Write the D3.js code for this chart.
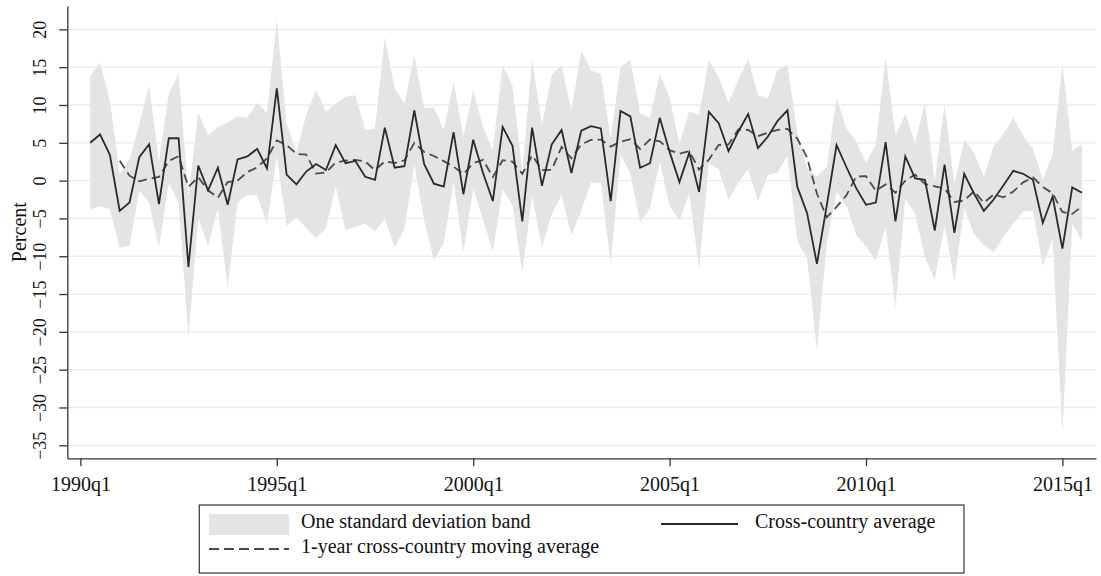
<!DOCTYPE html>
<html>
<head>
<meta charset="utf-8">
<script src="https://cdn.jsdelivr.net/npm/d3@7"></script>
<style>
  body { margin: 0; background: #fff; }
  svg { display: block; }
  text { font-family: "Liberation Serif", "Times New Roman", Times, serif; fill: #111; }
</style>
</head>
<body>
<svg id="chart" width="1101" height="576"></svg>
<script>
// Quarterly observations, 1990q2 - 2015q3
const periods = [
  "1990q2","1990q3","1990q4",
  "1991q1","1991q2","1991q3","1991q4","1992q1","1992q2","1992q3","1992q4",
  "1993q1","1993q2","1993q3","1993q4","1994q1","1994q2","1994q3","1994q4",
  "1995q1","1995q2","1995q3","1995q4","1996q1","1996q2","1996q3","1996q4",
  "1997q1","1997q2","1997q3","1997q4","1998q1","1998q2","1998q3","1998q4",
  "1999q1","1999q2","1999q3","1999q4","2000q1","2000q2","2000q3","2000q4",
  "2001q1","2001q2","2001q3","2001q4","2002q1","2002q2","2002q3","2002q4",
  "2003q1","2003q2","2003q3","2003q4","2004q1","2004q2","2004q3","2004q4",
  "2005q1","2005q2","2005q3","2005q4","2006q1","2006q2","2006q3","2006q4",
  "2007q1","2007q2","2007q3","2007q4","2008q1","2008q2","2008q3","2008q4",
  "2009q1","2009q2","2009q3","2009q4","2010q1","2010q2","2010q3","2010q4",
  "2011q1","2011q2","2011q3","2011q4","2012q1","2012q2","2012q3","2012q4",
  "2013q1","2013q2","2013q3","2013q4","2014q1","2014q2","2014q3","2014q4",
  "2015q1","2015q2","2015q3"
];

// Cross-country average (percent)
const crossCountryAvg = [
  5.0, 6.1, 3.4, -4.0, -2.9, 3.1, 4.8, -3.1, 5.6, 5.6,
  -11.4, 2.0, -1.3, 1.7, -3.2, 2.8, 3.2, 4.2, 1.6, 12.2,
  0.8, -0.5, 1.2, 2.2, 1.4, 4.7, 2.3, 2.6, 0.5, 0.1,
  7.0, 1.7, 1.9, 9.3, 2.2, -0.4, -0.8, 6.4, -1.8, 5.4,
  1.0, -2.7, 7.1, 4.6, -5.4, 7.0, -0.7, 4.8, 6.7, 1.0,
  6.6, 7.2, 6.9, -2.7, 9.2, 8.5, 1.7, 2.3, 8.3, 3.8,
  -0.2, 3.7, -1.5, 9.1, 7.6, 3.9, 6.5, 8.8, 4.3, 5.8,
  7.9, 9.3, -0.8, -4.3, -11.0, -3.3, 4.7, 1.8, -1.0, -3.2,
  -2.9, 5.1, -5.4, 3.2, 0.3, 0.1, -6.6, 2.1, -6.9, 0.9,
  -1.7, -4.0, -2.5, -0.6, 1.3, 0.9, 0.1, -5.6, -2.1, -9.0,
  -0.9, -1.6
];

// Cross-country standard deviation (percentage points)
const crossCountrySd = [
  8.8, 9.5, 7.2, 4.9, 5.7, 4.4, 7.8, 5.7, 5.9, 8.5,
  9.3, 7.0, 7.3, 5.4, 10.9, 5.7, 5.1, 6.1, 7.3, 9.0,
  6.8, 4.3, 7.5, 9.8, 7.7, 5.5, 8.8, 8.7, 6.2, 6.8,
  12.0, 10.5, 8.3, 7.2, 7.4, 10.1, 7.5, 6.6, 7.6, 6.5,
  6.1, 6.7, 8.2, 7.9, 6.7, 9.0, 8.1, 9.2, 8.6, 8.2,
  10.6, 7.4, 7.2, 8.3, 5.8, 7.5, 7.2, 6.0, 5.8, 7.2,
  5.1, 5.4, 10.2, 6.8, 6.1, 6.4, 6.8, 7.3, 7.0, 5.1,
  6.8, 6.0, 7.2, 6.0, 11.5, 5.1, 6.2, 5.1, 6.2, 5.5,
  7.7, 11.2, 11.4, 5.6, 4.7, 10.2, 6.5, 8.0, 6.4, 4.5,
  5.4, 4.5, 7.0, 6.8, 7.0, 5.0, 4.1, 5.7, 5.6, 24.4,
  4.8, 6.4
];

// 1-year (four-quarter) cross-country moving average
const movingAvg = [
  null, null, null, 2.63, 0.65, -0.10, 0.25, 0.48, 2.60, 3.23,
  -0.83, 0.45, -1.28, -2.25, -0.20, 0.00, 1.13, 1.75, 2.95, 5.30,
  4.70, 3.53, 3.43, 0.93, 1.08, 2.38, 2.65, 2.75, 2.53, 1.38,
  2.55, 2.33, 2.68, 4.98, 3.78, 3.25, 2.58, 1.85, 0.85, 2.30,
  2.75, 0.48, 2.70, 2.50, 0.90, 3.33, 1.38, 1.43, 4.45, 2.95,
  4.78, 5.38, 5.43, 4.50, 5.15, 5.48, 4.18, 5.43, 5.20, 4.03,
  3.55, 3.90, 1.45, 2.78, 4.73, 4.78, 6.78, 6.70, 5.88, 6.35,
  6.70, 6.83, 5.55, 3.03, -1.70, -4.85, -3.48, -1.95, 0.55, 0.58,
  -1.33, -0.50, -1.60, 0.00, 0.80, -0.45, -0.75, -1.03, -2.83, -2.63,
  -1.40, -2.93, -1.83, -2.20, -1.45, -0.23, 0.43, -0.83, -1.68, -4.15,
  -4.40, -3.40
];

const xTickLabels = ["1990q1", "1995q1", "2000q1", "2005q1", "2010q1", "2015q1"];
const yTickValues = [20, 15, 10, 5, 0, -5, -10, -15, -20, -25, -30, -35];
const yAxisTitle = "Percent";
const legendLabels = {
  band: "One standard deviation band",
  avg: "Cross-country average",
  ma: "1-year cross-country moving average"
};

// quarters elapsed since 1990q1
function periodIndex(p) {
  const yr = +p.slice(0, 4), q = +p.slice(5);
  return (yr - 1990) * 4 + (q - 1);
}

const rows = periods.map((p, i) => ({
  t: periodIndex(p),
  avg: crossCountryAvg[i],
  sd: crossCountrySd[i],
  ma: movingAvg[i]
}));

const svg = d3.select("#chart");
const plot = { left: 67.3, right: 1096, top: 6, bottom: 458.3 };

const x = d3.scaleLinear().domain([-1.334, 103.42]).range([plot.left, plot.right]);
const y = d3.scaleLinear().domain([-36.72, 23.09]).range([plot.bottom, plot.top]);

// horizontal gridlines
svg.append("g")
  .selectAll("line")
  .data(yTickValues)
  .join("line")
  .attr("x1", plot.left).attr("x2", plot.right)
  .attr("y1", d => y(d)).attr("y2", d => y(d))
  .attr("stroke", "#ebebeb").attr("stroke-width", 1.3);

// one standard deviation band
svg.append("path")
  .datum(rows)
  .attr("fill", "#e4e4e4")
  .attr("d", d3.area()
    .x(d => x(d.t))
    .y0(d => y(d.avg - d.sd))
    .y1(d => y(d.avg + d.sd)));

// moving average (dashed)
svg.append("path")
  .datum(rows)
  .attr("fill", "none")
  .attr("stroke", "#4a4a4a")
  .attr("stroke-width", 1.8)
  .attr("stroke-dasharray", "9,5")
  .attr("d", d3.line().defined(d => d.ma !== null).x(d => x(d.t)).y(d => y(d.ma)));

// cross-country average (solid)
svg.append("path")
  .datum(rows)
  .attr("fill", "none")
  .attr("stroke", "#2a2a2a")
  .attr("stroke-width", 1.8)
  .attr("d", d3.line().x(d => x(d.t)).y(d => y(d.avg)));

// y axis
const yAxis = svg.append("g")
  .attr("transform", `translate(${plot.left},0)`)
  .call(d3.axisLeft(y).tickValues(yTickValues).tickSize(8).tickSizeOuter(0));
yAxis.select(".domain").attr("stroke", "#333").attr("stroke-width", 1.3);
yAxis.selectAll(".tick line").attr("stroke", "#333").attr("stroke-width", 1.3);
yAxis.selectAll(".tick text")
  .attr("x", null).attr("dy", null)
  .attr("text-anchor", "middle")
  .attr("transform", "translate(-21.5,0) rotate(-90)")
  .style("font-family", '"Liberation Serif", "Times New Roman", serif')
  .style("font-size", "18px")
  .attr("fill", "#111");

// x axis
const xAxis = svg.append("g")
  .attr("transform", `translate(0,${plot.bottom})`)
  .call(d3.axisBottom(x)
    .tickValues(xTickLabels.map(periodIndex))
    .tickFormat((d, i) => xTickLabels[i])
    .tickSize(8).tickSizeOuter(0));
xAxis.select(".domain").attr("stroke", "#333").attr("stroke-width", 1.3);
xAxis.selectAll(".tick line").attr("stroke", "#333").attr("stroke-width", 1.3);
xAxis.selectAll(".tick text")
  .attr("y", 32.7).attr("dy", null)
  .style("font-family", '"Liberation Serif", "Times New Roman", serif')
  .style("font-size", "20px")
  .attr("fill", "#111");

// y axis title
svg.append("text")
  .attr("transform", `translate(26,${(plot.top + plot.bottom) / 2}) rotate(-90)`)
  .attr("text-anchor", "middle")
  .style("font-size", "20px")
  .text(yAxisTitle);

// legend
const lg = svg.append("g");
lg.append("rect")
  .attr("x", 199.3).attr("y", 505).attr("width", 764.7).attr("height", 68)
  .attr("fill", "#fff").attr("stroke", "#333").attr("stroke-width", 1.2);

lg.append("rect")
  .attr("x", 209).attr("y", 514).attr("width", 80).attr("height", 21)
  .attr("fill", "#e4e4e4");
lg.append("text").attr("x", 301).attr("y", 528).style("font-size", "20px").text(legendLabels.band);

lg.append("line")
  .attr("x1", 661).attr("x2", 738).attr("y1", 524).attr("y2", 524)
  .attr("stroke", "#2a2a2a").attr("stroke-width", 1.8);
lg.append("text").attr("x", 755).attr("y", 528).style("font-size", "20px").text(legendLabels.avg);

lg.append("line")
  .attr("x1", 209).attr("x2", 289).attr("y1", 549).attr("y2", 549)
  .attr("stroke", "#4a4a4a").attr("stroke-width", 1.8).attr("stroke-dasharray", "10,5");
lg.append("text").attr("x", 301).attr("y", 553).style("font-size", "20px").text(legendLabels.ma);
</script>
</body>
</html>
